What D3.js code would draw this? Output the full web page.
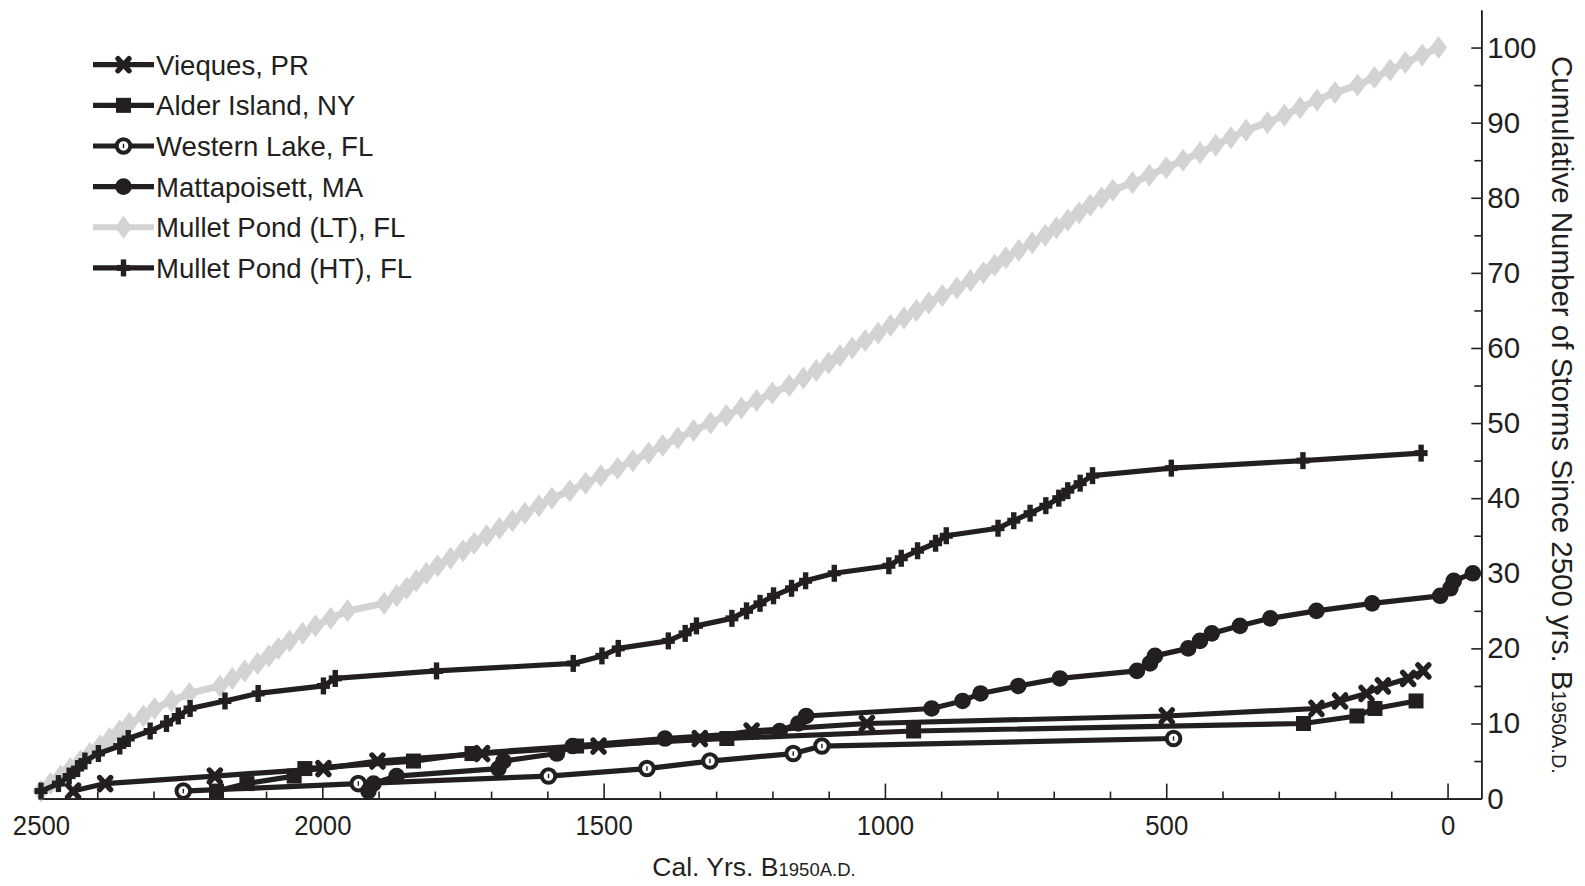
<!DOCTYPE html>
<html><head><meta charset="utf-8">
<script src="https://cdn.jsdelivr.net/npm/d3@7"></script>
<style>
body{margin:0;background:#fff}
svg{display:block}
text{font-family:"Liberation Sans",Arial,Helvetica,sans-serif;fill:#231f20}
</style>
</head><body>
<svg id="c" width="1585" height="886"></svg>
<script>
// ---------- DATA ----------
const seriesNames = ["Vieques, PR","Alder Island, NY","Western Lake, FL","Mattapoisett, MA","Mullet Pond (LT), FL","Mullet Pond (HT), FL"];

const viequesYears = [2443,2386,2191,1998,1902,1716,1509,1329,1237,1032,499,233,191,144,115,70,43];
const viequesCounts = [1,2,3,4,5,6,7,8,9,10,11,12,13,14,15,16,17];

const alderYears = [2188,2134,2050,2031,1838,1734,1548,1281,949,256,161,129,56];
const alderCounts = [1,2,3,4,5,6,7,8,9,10,11,12,13];

const westernYears = [2247,1936,1598,1423,1311,1163,1112,487];
const westernCounts = [1,2,3,4,5,6,7,8];

const mattYears = [1918,1909,1868,1687,1678,1583,1555,1391,1187,1154,1140,917,862,830,763,689,552,529,520,461,440,419,369,315,233,134,13,-5,-11,-45];
const mattCounts = [1,2,3,4,5,6,7,8,9,10,11,12,13,14,15,16,17,18,19,20,21,22,23,24,25,26,27,28,29,30];

const ltYears = [2500,2483,2465,2448,2430,2413,2395,2378,2360,2343,2318,2298,2268,2236,2182,2160,2138,2115,2095,2078,
  2058,2035,2012,1985,1955,1890,1868,1850,1833,1815,1795,1772,1750,1730,1708,1685,1662,1640,1615,1592,
  1560,1532,1505,1475,1448,1420,1395,1368,1340,1310,1282,1255,1228,1200,1170,1145,1122,1100,1080,1058,
  1035,1012,990,966,944,922,898,872,848,825,805,785,762,738,715,695,675,655,635,615,
  595,560,530,500,470,440,412,385,358,320,290,262,232,200,160,130,102,75,45,16];
const ltCounts = [1,2,3,4,5,6,7,8,9,10,11,12,13,14,15,16,17,18,19,20,
  21,22,23,24,25,26,27,28,29,30,31,32,33,34,35,36,37,38,39,40,
  41,42,43,44,45,46,47,48,49,50,51,52,53,54,55,56,57,58,59,60,
  61,62,63,64,65,66,67,68,69,70,71,72,73,74,75,76,77,78,79,80,
  81,82,83,84,85,86,87,88,89,90,91,92,93,94,95,96,97,98,99,100];

const htYears = [2500,2469,2450,2435,2422,2398,2360,2345,2306,2277,2256,2235,2173,2114,1998,1977,1797,1554,1503,1474,
  1385,1355,1335,1272,1246,1222,1198,1166,1141,1090,993,971,942,910,891,799,771,742,714,691,675,653,631,491,257,47];
const htCounts = [1,2,3,4,5,6,7,8,9,10,11,12,13,14,15,16,17,18,19,20,
  21,22,23,24,25,26,27,28,29,30,31,32,33,34,35,36,37,38,39,40,41,42,43,44,45,46];

const xMajorTicks = [2500,2000,1500,1000,500,0];
const xMinorTicks = [2400,2300,2200,2100,1900,1800,1700,1600,1400,1300,1200,1100,900,800,700,600,400,300,200,100];
const yMajorTicks = [0,10,20,30,40,50,60,70,80,90,100];
const yMinorTicks = [5,15,25,35,45,55,65,75,85,95];

// ---------- CHART ----------
const INK = "#231f20", GREY = "#d1d3d4";
const svg = d3.select("#c");
const x = d3.scaleLinear().domain([2500,-60]).range([41,1481.3]);
const y = d3.scaleLinear().domain([0,105]).range([798.6,10]);

function styleAxis(g, fs){
  g.selectAll("path.domain").attr("stroke",INK).attr("stroke-width",1.6);
  g.selectAll(".tick line").attr("stroke",INK).attr("stroke-width",1.6);
  g.selectAll(".tick text").attr("fill",INK).style("font-size",fs+"px")
   .style("font-family",'"Liberation Sans",Arial,sans-serif');
}

// x axis
const gxMin = svg.append("g").attr("transform",`translate(0,${y(0)})`)
  .call(d3.axisBottom(x).tickValues(xMinorTicks).tickSize(-7).tickSizeOuter(0).tickFormat(""));
styleAxis(gxMin,27);
const gxMaj = svg.append("g").attr("transform",`translate(0,${y(0)})`)
  .call(d3.axisBottom(x).tickValues(xMajorTicks).tickSize(-15).tickSizeOuter(0).tickPadding(17).tickFormat(d3.format("d")));
styleAxis(gxMaj,28);
gxMaj.selectAll(".tick text").attr("transform","scale(0.92,1)");
gxMaj.selectAll(".tick").filter(d=>d===2500).select("line").remove();

// y axis
const gyMin = svg.append("g").attr("transform",`translate(${x(-60)},0)`)
  .call(d3.axisRight(y).tickValues(yMinorTicks).tickSize(-7).tickSizeOuter(0).tickFormat(""));
styleAxis(gyMin,29);
const gyMaj = svg.append("g").attr("transform",`translate(${x(-60)},0)`)
  .call(d3.axisRight(y).tickValues(yMajorTicks).tickSize(-10).tickSizeOuter(0).tickPadding(6).tickFormat(d3.format("d")));
styleAxis(gyMaj,29.5);
gyMaj.selectAll(".tick").filter(d=>d===0).select("line").remove();

// axis titles
const xt = svg.append("text").attr("x",754).attr("y",876).attr("text-anchor","middle").style("font-size","26.5px");
xt.append("tspan").text("Cal. Yrs. B");
xt.append("tspan").style("font-size","18.5px").text("1950A.D.");

const yt = svg.append("text").attr("transform","translate(1552,56) rotate(90)").attr("text-anchor","start").style("font-size","29.5px");
yt.append("tspan").text("Cumulative Number of Storms Since 2500 yrs. B");
yt.append("tspan").style("font-size","20px").text("1950A.D.");

// markers
function drawMarker(g, type){
  if(type==="diamond"){
    g.append("path").attr("d","M0,-11.5L8.5,0L0,11.5L-8.5,0Z").attr("fill",GREY);
  } else if(type==="plus"){
    g.append("rect").attr("x",-2.7).attr("y",-8.5).attr("width",5.4).attr("height",17).attr("fill",INK);
    g.append("rect").attr("x",-6.5).attr("y",-3).attr("width",13).attr("height",6).attr("fill",INK);
  } else if(type==="x"){
    g.append("path").attr("d","M-5.5,-6L5.5,6M-5.5,6L5.5,-6").attr("stroke",INK).attr("stroke-width",5.4).attr("stroke-linecap","round").attr("fill","none");
  } else if(type==="square"){
    g.append("rect").attr("x",-7.5).attr("y",-7.5).attr("width",15).attr("height",15).attr("fill",INK);
  } else if(type==="open"){
    g.append("circle").attr("r",6.8).attr("fill","#fff").attr("stroke",INK).attr("stroke-width",4);
    g.append("rect").attr("x",-0.7).attr("y",-2.2).attr("width",1.4).attr("height",4.4).attr("fill",INK);
  } else if(type==="dot"){
    g.append("circle").attr("r",8.3).attr("fill",INK);
  }
}

const series = [
  {name:seriesNames[4], years:ltYears, counts:ltCounts, color:GREY, width:7, marker:"diamond"},
  {name:seriesNames[0], years:viequesYears, counts:viequesCounts, color:INK, width:5.2, marker:"x"},
  {name:seriesNames[1], years:alderYears, counts:alderCounts, color:INK, width:5.2, marker:"square"},
  {name:seriesNames[2], years:westernYears, counts:westernCounts, color:INK, width:5.2, marker:"open"},
  {name:seriesNames[3], years:mattYears, counts:mattCounts, color:INK, width:5.2, marker:"dot"},
  {name:seriesNames[5], years:htYears, counts:htCounts, color:INK, width:5.2, marker:"plus"}
];

const line = d3.line().x(d=>x(d[0])).y(d=>y(d[1]));
series.forEach(s=>{
  const pts = s.years.map((yr,i)=>[yr,s.counts[i]]);
  const g = svg.append("g");
  g.append("path").attr("d",line(pts)).attr("fill","none").attr("stroke",s.color)
    .attr("stroke-width",s.width).attr("stroke-linejoin","round");
  pts.forEach(p=>{
    const m = g.append("g").attr("transform",`translate(${x(p[0])},${y(p[1])})`);
    drawMarker(m,s.marker);
  });
});

// legend
const legendOrder = [
  {name:seriesNames[0], color:INK, marker:"x"},
  {name:seriesNames[1], color:INK, marker:"square"},
  {name:seriesNames[2], color:INK, marker:"open"},
  {name:seriesNames[3], color:INK, marker:"dot"},
  {name:seriesNames[4], color:GREY, marker:"diamond"},
  {name:seriesNames[5], color:INK, marker:"plus"}
];
legendOrder.forEach((l,i)=>{
  const cy = 64.7 + i*40.64;
  const g = svg.append("g");
  g.append("line").attr("x1",93).attr("x2",154).attr("y1",cy).attr("y2",cy)
    .attr("stroke",l.color).attr("stroke-width",l.marker==="diamond"?6:5.2);
  const m = g.append("g").attr("transform",`translate(123.5,${cy})`);
  drawMarker(m,l.marker);
  g.append("text").attr("x",156).attr("y",cy).attr("dy","0.36em").style("font-size","27.6px").text(l.name);
});
</script>
</body></html>
